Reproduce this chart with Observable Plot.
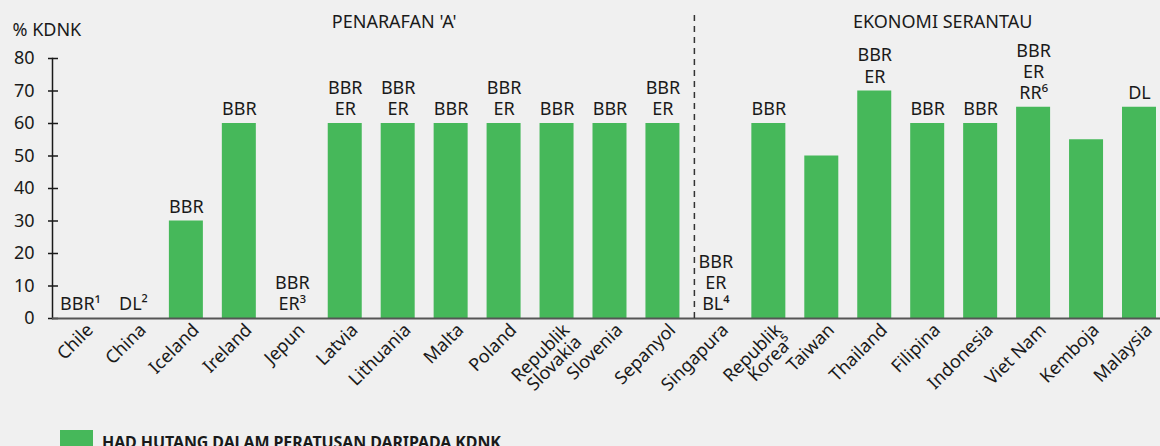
<!DOCTYPE html>
<html>
<head>
<meta charset="utf-8">
<script src="https://cdn.jsdelivr.net/npm/d3@7"></script>
<script src="https://cdn.jsdelivr.net/npm/@observablehq/plot@0.6"></script>
<style>
  html, body { margin: 0; padding: 0; background: #f0f0f0; }
  body { width: 1160px; height: 446px; overflow: hidden; font-family: "Noto Sans", "Open Sans", sans-serif; color: #1a1a1a; }
  #legend { display: flex; align-items: flex-start; margin-top: 10px; margin-left: 60px; }
  #legend .sw { width: 33px; height: 33px; background: #46b85a; margin-right: 9px; }
  #legend .lb { font-weight: 700; font-size: 16px; line-height: 1; padding-top: 4px; letter-spacing: -0.1px; }
</style>
</head>
<body>
<div id="chart"></div>
<div id="legend"><div class="sw"></div><div class="lb">HAD HUTANG DALAM PERATUSAN DARIPADA KDNK</div></div>
<script>
const countries = ["Chile","China","Iceland","Ireland","Jepun","Latvia","Lithuania","Malta","Poland","Republik\nSlovakia","Slovenia","Sepanyol","Singapura","Republik\nKorea⁵","Taiwan","Thailand","Filipina","Indonesia","Viet Nam","Kemboja","Malaysia"];
const values = [0,0,30,60,0,60,60,60,60,60,60,60,0,60,50,70,60,60,65,55,65];
const barLabels = ["BBR¹","DL²","BBR","BBR","BBR\nER³","BBR\nER","BBR\nER","BBR","BBR\nER","BBR","BBR","BBR\nER","BBR\nER\nBL⁴","BBR","","BBR\nER","BBR","BBR","BBR\nER\nRR⁶","","DL"];
const yTicks = [0,10,20,30,40,50,60,70,80];
const groupTitles = ["PENARAFAN 'A'", "EKONOMI SERANTAU"];
const yTitle = "% KDNK";
const legendLabel = "HAD HUTANG DALAM PERATUSAN DARIPADA KDNK";

const data = countries.map((c, i) => ({country: c, value: values[i], label: barLabels[i]}));

const green = "#46b85a";
const ink = "#1a1a1a";

const chart = Plot.plot({
  width: 1160,
  height: 420,
  marginLeft: 52,
  marginRight: 0,
  marginTop: 58,
  marginBottom: 102,
  style: {background: "transparent", fontFamily: "'Noto Sans', 'Open Sans', sans-serif", color: ink},
  x: {domain: countries, paddingInner: 0.358, paddingOuter: 0.1415, align: 0.733, round: false, axis: null},
  y: {domain: [0, 80], ticks: yTicks, axis: null},
  marks: [
    Plot.barY(data, {x: "country", y: "value", fill: green}),
    Plot.text(data, {x: "country", y: "value", text: "label", lineAnchor: "bottom", dy: -8.5, fontSize: 18, lineHeight: 1.17, fill: ink}),
    Plot.frame({anchor: "left", stroke: ink, strokeWidth: 1.5}),
    Plot.axisY({ticks: yTicks, tickSize: 10, dx: 6, tickFormat: () => "", stroke: ink, strokeWidth: 1.5, label: null}),
    Plot.axisY({ticks: yTicks, tickSize: 0, tickPadding: 18, fontSize: 18, fill: ink, label: null}),
    Plot.ruleY([0], {stroke: "#555", strokeWidth: 2}),
    Plot.ruleX(["Singapura"], {x: d => d, y1: 0, y2: 93.8, dx: -21.5, stroke: "#333", strokeWidth: 1.5, strokeDasharray: "6,5"}),
    Plot.text(data, {x: "country", y: 0, text: "country", rotate: -45, textAnchor: "end", lineAnchor: "top", dx: 5, dy: 4, fontSize: 18, lineHeight: 0.95, fill: ink}),
    Plot.text([groupTitles[0]], {x: () => "Lithuania", y: 89.5, text: d => d, lineAnchor: "bottom", dx: -4, fontSize: 18, fill: ink}),
    Plot.text([groupTitles[1]], {x: () => "Filipina", y: 89.5, text: d => d, lineAnchor: "bottom", dx: 15, fontSize: 18, fill: ink}),
    Plot.text([yTitle], {frameAnchor: "top-left", text: d => d, textAnchor: "start", lineAnchor: "bottom", dx: -40, dy: -23, fontSize: 18, fill: ink})
  ]
});
document.getElementById("chart").appendChild(chart);
</script>
</body>
</html>
